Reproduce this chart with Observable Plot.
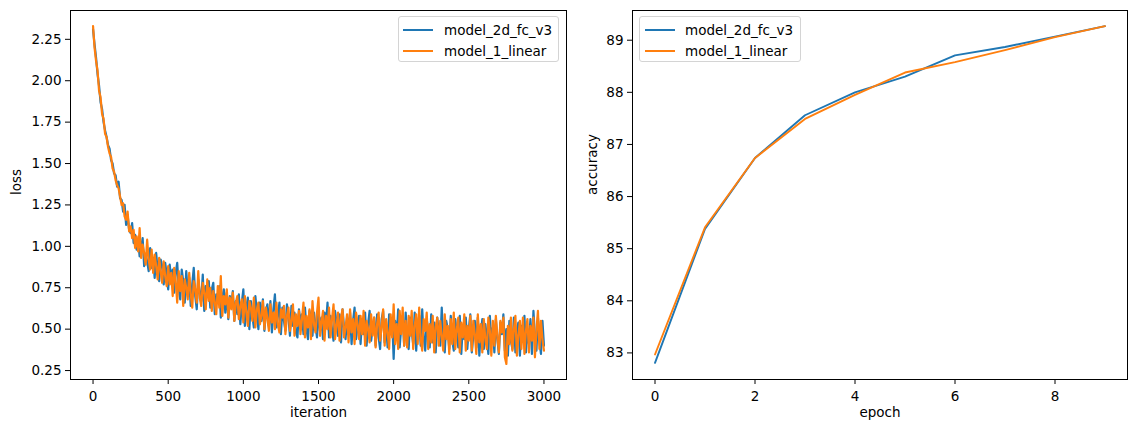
<!DOCTYPE html>
<html>
<head>
<meta charset="utf-8">
<script src="https://cdn.jsdelivr.net/npm/d3@7"></script>
<script src="https://cdn.jsdelivr.net/npm/@observablehq/plot@0.6"></script>
<style>
  body { margin: 0; background: #fff; font-family: "DejaVu Sans", sans-serif; }
  #wrap { display: flex; width: 1139px; height: 432px; }
  .panel { position: relative; }
  .legend { position: absolute; background: rgba(255,255,255,0.8); border: 1px solid #d4d4d4; border-radius: 3px; box-sizing: border-box; font-size: 13.5px; color: #000; }
  .sw { position: absolute; height: 2px; width: 30px; }
  .lt { position: absolute; line-height: 16px; white-space: nowrap; }
</style>
</head>
<body>
<div id="wrap"></div>
<script>
// ---------------- data ----------------
const seriesNames = ["model_2d_fc_v3", "model_1_linear"];
const seriesColors = ["#1f77b4", "#ff7f0e"];

// loss read every 10 iterations (0 .. 3000)
const lossStep = 10;
const lossBlue = [
  2.31, 2.22, 2.14, 2.04, 1.97, 1.87, 1.83, 1.75, 1.70, 1.66,
  1.61, 1.59, 1.52, 1.50, 1.44, 1.43, 1.36, 1.39, 1.29, 1.28,
  1.21, 1.25, 1.13, 1.19, 1.10, 1.08, 1.14, 1.02, 1.07, 0.98,
  1.03, 0.94, 0.99, 1.05, 0.88, 0.95, 0.91, 0.85, 0.99, 0.87,
  0.93, 0.81, 0.96, 0.85, 0.79, 0.92, 0.88, 0.77, 0.90, 0.83,
  0.74, 0.89, 0.80, 0.86, 0.72, 0.84, 0.90, 0.75, 0.68, 0.86,
  0.79, 0.66, 0.85, 0.73, 0.81, 0.64, 0.77, 0.87, 0.70, 0.62,
  0.80, 0.72, 0.67, 0.83, 0.61, 0.76, 0.70, 0.79, 0.63, 0.74,
  0.78, 0.59, 0.71, 0.66, 0.76, 0.57, 0.69, 0.74, 0.60, 0.72,
  0.56, 0.70, 0.64, 0.73, 0.55, 0.67, 0.59, 0.71, 0.53, 0.66,
  0.74, 0.52, 0.63, 0.69, 0.50, 0.67, 0.58, 0.51, 0.70, 0.60,
  0.50, 0.66, 0.55, 0.68, 0.49, 0.61, 0.65, 0.52, 0.67, 0.48,
  0.62, 0.71, 0.51, 0.58, 0.66, 0.47, 0.63, 0.55, 0.49, 0.65,
  0.57, 0.46, 0.64, 0.52, 0.60, 0.48, 0.45, 0.62, 0.54, 0.59,
  0.47, 0.63, 0.50, 0.44, 0.61, 0.56, 0.46, 0.60, 0.52, 0.45,
  0.62, 0.49, 0.57, 0.44, 0.60, 0.53, 0.66, 0.45, 0.58, 0.50,
  0.43, 0.61, 0.54, 0.46, 0.59, 0.42, 0.62, 0.51, 0.44, 0.57,
  0.49, 0.60, 0.41, 0.55, 0.63, 0.44, 0.52, 0.58, 0.41, 0.56,
  0.47, 0.60, 0.40, 0.53, 0.61, 0.43, 0.50, 0.57, 0.40, 0.59,
  0.45, 0.38, 0.56, 0.61, 0.42, 0.52, 0.39, 0.59, 0.47, 0.56,
  0.32, 0.55, 0.44, 0.62, 0.39, 0.51, 0.58, 0.40, 0.60, 0.46,
  0.38, 0.57, 0.49, 0.41, 0.60, 0.37, 0.53, 0.58, 0.40, 0.62,
  0.45, 0.37, 0.56, 0.49, 0.39, 0.59, 0.42, 0.54, 0.36, 0.57,
  0.48, 0.40, 0.63, 0.44, 0.36, 0.55, 0.50, 0.38, 0.58, 0.43,
  0.37, 0.56, 0.47, 0.39, 0.58, 0.35, 0.52, 0.44, 0.57, 0.38,
  0.50, 0.59, 0.36, 0.46, 0.55, 0.39, 0.57, 0.34, 0.48, 0.56,
  0.38, 0.53, 0.45, 0.35, 0.58, 0.42, 0.51, 0.36, 0.56, 0.44,
  0.35, 0.54, 0.47, 0.59, 0.37, 0.50, 0.34, 0.55, 0.43, 0.38,
  0.57, 0.36, 0.49, 0.54, 0.34, 0.52, 0.44, 0.58, 0.36, 0.50,
  0.41, 0.56, 0.35, 0.61, 0.46, 0.37, 0.57, 0.43, 0.35, 0.55,
  0.40
];
const lossOrange = [
  2.33, 2.20, 2.12, 2.06, 1.94, 1.90, 1.80, 1.77, 1.68, 1.66,
  1.60, 1.56, 1.54, 1.47, 1.45, 1.40, 1.37, 1.35, 1.30, 1.25,
  1.26, 1.18, 1.16, 1.21, 1.09, 1.12, 1.05, 1.10, 0.99, 1.06,
  0.97, 1.11, 0.93, 1.01, 0.96, 0.89, 1.04, 0.92, 0.86, 0.98,
  0.84, 0.95, 0.88, 0.80, 0.93, 0.85, 0.78, 0.91, 0.82, 0.76,
  0.88, 0.77, 0.84, 0.70, 0.87, 0.79, 0.66, 0.85, 0.73, 0.82,
  0.64, 0.80, 0.75, 0.68, 0.84, 0.71, 0.63, 0.79, 0.74, 0.66,
  0.85, 0.69, 0.64, 0.78, 0.72, 0.62, 0.80, 0.67, 0.75, 0.61,
  0.73, 0.66, 0.59, 0.76, 0.63, 0.82, 0.58, 0.70, 0.65, 0.74,
  0.57, 0.69, 0.62, 0.72, 0.55, 0.66, 0.70, 0.56, 0.64, 0.68,
  0.54, 0.70, 0.60, 0.52, 0.67, 0.63, 0.55, 0.69, 0.51, 0.62,
  0.66, 0.53, 0.58, 0.67, 0.50, 0.63, 0.56, 0.49, 0.65, 0.54,
  0.60, 0.50, 0.66, 0.53, 0.48, 0.62, 0.57, 0.64, 0.47, 0.58,
  0.63, 0.49, 0.55, 0.65, 0.46, 0.59, 0.52, 0.61, 0.47, 0.56,
  0.66, 0.45, 0.58, 0.51, 0.62, 0.44, 0.67, 0.53, 0.48, 0.60,
  0.69, 0.46, 0.54, 0.61, 0.43, 0.58, 0.50, 0.63, 0.45, 0.56,
  0.65, 0.44, 0.52, 0.60, 0.43, 0.57, 0.62, 0.45, 0.51, 0.59,
  0.42, 0.62, 0.48, 0.56, 0.41, 0.60, 0.53, 0.44, 0.58, 0.47,
  0.61, 0.40, 0.55, 0.50, 0.42, 0.59, 0.46, 0.57, 0.39, 0.53,
  0.60, 0.43, 0.51, 0.62, 0.40, 0.56, 0.48, 0.38, 0.59, 0.45,
  0.65, 0.41, 0.53, 0.38, 0.61, 0.47, 0.63, 0.40, 0.55, 0.39,
  0.58, 0.46, 0.61, 0.38, 0.52, 0.59, 0.41, 0.63, 0.44, 0.37,
  0.56, 0.49, 0.60, 0.38, 0.53, 0.42, 0.58, 0.36, 0.51, 0.57,
  0.40, 0.55, 0.46, 0.37, 0.59, 0.44, 0.52, 0.35, 0.56, 0.41,
  0.60, 0.38, 0.50, 0.57, 0.36, 0.54, 0.45, 0.59, 0.37, 0.52,
  0.43, 0.58, 0.37, 0.55, 0.47, 0.35, 0.59, 0.42, 0.53, 0.36,
  0.56, 0.44, 0.38, 0.57, 0.49, 0.34, 0.55, 0.40, 0.58, 0.45,
  0.36, 0.55, 0.48, 0.57, 0.33, 0.29, 0.52, 0.41, 0.57, 0.37,
  0.50, 0.58, 0.34, 0.46, 0.55, 0.38, 0.57, 0.35, 0.49, 0.56,
  0.36, 0.52, 0.43, 0.57, 0.33, 0.49, 0.61, 0.38, 0.55, 0.44,
  0.37
];
const lossXTicks = [0, 500, 1000, 1500, 2000, 2500, 3000];
const lossYTicks = [0.25, 0.50, 0.75, 1.00, 1.25, 1.50, 1.75, 2.00, 2.25];

const epochs = [0, 1, 2, 3, 4, 5, 6, 7, 8, 9];
const accBlue   = [82.81, 85.38, 86.74, 87.56, 88.00, 88.30, 88.71, 88.87, 89.07, 89.27];
const accOrange = [82.97, 85.41, 86.74, 87.49, 87.95, 88.38, 88.58, 88.81, 89.06, 89.27];
const accXTicks = [0, 2, 4, 6, 8];
const accYTicks = [83, 84, 85, 86, 87, 88, 89];

// ---------------- helpers ----------------
const FONT = "DejaVu Sans";
const FS = 13.5;
const baseStyle = { fontFamily: FONT, fontSize: FS + "px", background: "white", color: "black", overflow: "visible" };

function lossRows(values, model) {
  return values.map((v, i) => ({ iteration: i * lossStep, loss: v, model }));
}
function accRows(values, model) {
  return values.map((v, i) => ({ epoch: epochs[i], accuracy: v, model }));
}

function legend(left, top, width, swLeft, textLeft) {
  const box = document.createElement("div");
  box.className = "legend";
  box.style.left = left + "px";
  box.style.top = top + "px";
  box.style.width = width + "px";
  box.style.height = "46px";
  const centers = [14, 34.7];
  seriesNames.forEach((name, i) => {
    const sw = document.createElement("div");
    sw.className = "sw";
    sw.style.left = swLeft + "px";
    sw.style.top = (centers[i] - 2) + "px";
    sw.style.background = seriesColors[i];
    box.appendChild(sw);
    const t = document.createElement("div");
    t.className = "lt";
    t.style.left = textLeft + "px";
    t.style.top = (centers[i] - 9) + "px";
    t.textContent = name;
    box.appendChild(t);
  });
  return box;
}

// ---------------- left: loss ----------------
const leftPlot = Plot.plot({
  width: 570, height: 432,
  marginLeft: 70, marginRight: 4, marginTop: 10, marginBottom: 53,
  style: baseStyle,
  x: { domain: [-150, 3150], ticks: lossXTicks, tickSize: 5, tickPadding: 7, label: null, tickFormat: d => String(d) },
  y: { domain: [0.196, 2.424], ticks: lossYTicks, tickSize: 5, tickPadding: 4, label: null, tickFormat: d => d.toFixed(2) },
  marks: [
    Plot.line(lossRows(lossBlue, seriesNames[0]), { x: "iteration", y: "loss", stroke: seriesColors[0], strokeWidth: 2.2 }),
    Plot.line(lossRows(lossOrange, seriesNames[1]), { x: "iteration", y: "loss", stroke: seriesColors[1], strokeWidth: 2.2 }),
    Plot.frame({ stroke: "black", strokeWidth: 1 }),
    Plot.text(["loss"], { text: d => d, frameAnchor: "left", dx: -54, rotate: -90, fontSize: FS, fill: "black" }),
    Plot.text(["iteration"], { text: d => d, frameAnchor: "bottom", dy: 37, fontSize: FS, fill: "black" })
  ]
});

// ---------------- right: accuracy ----------------
const rightPlot = Plot.plot({
  width: 569, height: 432,
  marginLeft: 62, marginRight: 12, marginTop: 10, marginBottom: 53,
  style: baseStyle,
  x: { domain: [-0.45, 9.45], ticks: accXTicks, tickSize: 5, tickPadding: 7, label: null, tickFormat: d => String(d) },
  y: { domain: [82.49, 89.57], ticks: accYTicks, tickSize: 5, tickPadding: 4, label: null, tickFormat: d => String(d) },
  marks: [
    Plot.line(accRows(accBlue, seriesNames[0]), { x: "epoch", y: "accuracy", stroke: seriesColors[0], strokeWidth: 1.9 }),
    Plot.line(accRows(accOrange, seriesNames[1]), { x: "epoch", y: "accuracy", stroke: seriesColors[1], strokeWidth: 1.9 }),
    Plot.frame({ stroke: "black", strokeWidth: 1 }),
    Plot.text(["accuracy"], { text: d => d, frameAnchor: "left", dx: -40, rotate: -90, fontSize: FS, fill: "black" }),
    Plot.text(["epoch"], { text: d => d, frameAnchor: "bottom", dy: 37, fontSize: FS, fill: "black" })
  ]
});

const wrap = document.getElementById("wrap");
const p1 = document.createElement("div"); p1.className = "panel"; p1.style.width = "570px";
p1.appendChild(leftPlot);
p1.appendChild(legend(398, 16, 161, 4, 45));
const p2 = document.createElement("div"); p2.className = "panel"; p2.style.width = "569px";
p2.appendChild(rightPlot);
p2.appendChild(legend(69, 16, 162, 5, 45));
wrap.appendChild(p1);
wrap.appendChild(p2);
</script>
</body>
</html>
